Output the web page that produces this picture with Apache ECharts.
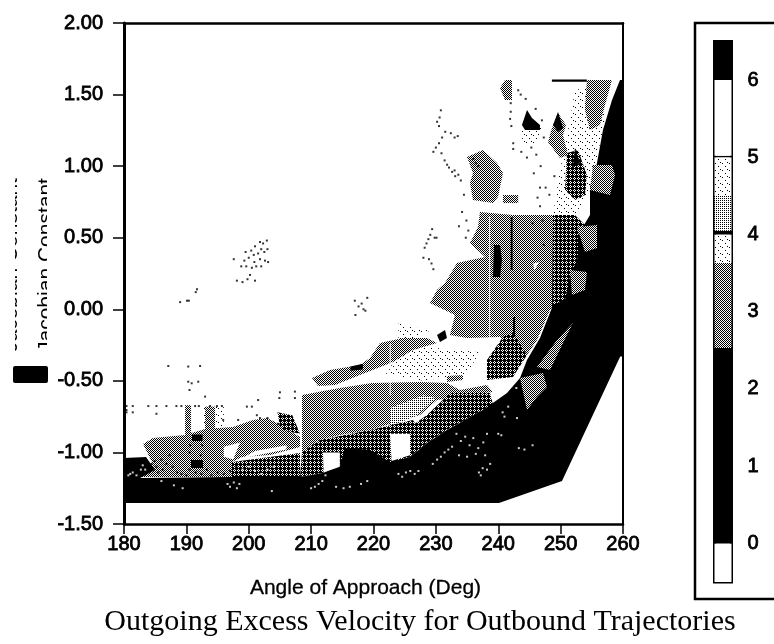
<!DOCTYPE html>
<html><head><meta charset="utf-8"><style>html,body{margin:0;padding:0;background:#fff}#c{width:774px;height:644px}</style>
<script src="https://cdn.jsdelivr.net/npm/echarts@6/dist/echarts.min.js"></script></head>
<body><div id="c"></div>
<script>
const angleTicksMin = 180, angleTicksMax = 260;
const constantMin = -1.5, constantMax = 2;
const colorTicks = [0,1,2,3,4,5,6];

const sparseRegions = [
 [[252.3,1.532],[256.31,1.567],[257.11,1.323],[254.71,.833],[252.3,.659],[248.78,.659],[249.9,.973],[251.5,1.323]],
 [[224,-.1],[229,-.15],[226,-.22],[224,-.22]],
 [[225,-.25],[237,-.3],[235,-.45],[228,-.5],[222,-.45]],
 [[243.5,1.28],[247,1.28],[246,1.15],[244,1.15]],
 [[192.7,-.67],[196,-.67],[196,-.86],[192.7,-.86]]
];
const grayRegions = [
 [[183.05,-.941],[184.65,-.899],[189.78,-.878],[192.99,-.836],[197.47,-.822],[200.68,-.773],[202.93,-.759],[204.53,-.794],[208.22,-.892],[208.22,-.962],[203.41,-1.018],[198.92,-1.032],[197.31,-1.067],[197.31,-1.172],[182.57,-1.172],[184.49,-1.067]],
 [[189.8,-.67],[190.75,-.67],[190.75,-.88],[189.8,-.88]],
 [[193,-.68],[194.6,-.68],[194.6,-.85],[193,-.85]],
 [[208.54,-.599],[214.63,-.55],[219.76,-.515],[227.45,-.508],[231.78,-.515],[233.87,-.564],[238.19,-.529],[239.16,-.578],[235.47,-.599],[230.18,-.634],[227.45,-.739],[219.44,-.843],[214.63,-.878],[211.42,-.913],[208.54,-.997]],
 [[210.14,-.48],[213.03,-.424],[217.83,-.389],[219.44,-.34],[221.04,-.236],[224.73,-.201],[228.58,-.201],[230.18,-.236],[226.33,-.284],[223.13,-.368],[217.83,-.459],[213.83,-.529],[211.1,-.536]],
 [[231.78,-.466],[234.35,-.459],[234.35,-.494],[231.78,-.508]],
 [[237.07,.68],[242.36,.659],[248.78,.659],[249.26,.344],[249.1,.044],[248.3,-.005],[246.21,-.215],[244.61,-.319],[242.36,-.333],[240.28,-.194],[234.99,-.201],[232.26,-.18],[233.06,-.04],[229.06,.044],[230.18,.135],[231.46,.184],[233.39,.323],[237.87,.365],[235.47,.463],[236.75,.575]],
 [[234.99,1.064],[237.55,1.113],[239.8,1.022],[240.76,.952],[239.96,.784],[239.16,.742],[235.95,.763],[235.47,.882],[235.95,.952]],
 [[241.08,1.602],[242.2,1.602],[242.2,1.462],[241.08,1.462],[240.28,1.546]],
 [[249.58,1.371],[250.86,1.287],[250.38,1.217],[251.18,1.078],[249.9,1.057],[247.97,1.169],[248.62,1.266]],
 [[240.76,.798],[243.2,.798],[243.2,.742],[240.76,.742]],
 [[254.22,1.602],[258.24,1.602],[257.11,1.427],[256.31,1.287],[254.71,1.252],[253.9,1.392]]
];
const lightRegions = [
 [[222.65,-.69],[228,-.6],[230,-.62],[227,-.74],[222.65,-.82]],
 [[234.4,-.62],[237.5,-.62],[237.5,-.74],[234.4,-.8]]
];
const gridRegions = [
 [[248.78,.659],[252.3,.659],[254.71,.554],[253.9,.414],[252.3,.205],[251.02,-.075],[248.62,-.019]],
 [[251.02,1.092],[252.78,1.113],[254.22,.938],[253.9,.798],[252.3,.763],[250.7,.833]],
 [[238.19,-.354],[240.76,-.194],[242.36,-.166],[244.61,-.319],[242.36,-.473],[238.19,-.494]],
 [[228.58,-.739],[232.26,-.585],[238.68,-.585],[239.16,-.669],[237.55,-.704],[231.78,-.843],[228.58,-.934],[226.33,-.808]],
 [[208.54,-.997],[211.42,-.913],[219.44,-.843],[226.33,-.773],[228.58,-.934],[225.85,-1.032],[222.65,-1.074],[219.44,-1.004],[215.43,-1.067],[211.9,-1.144],[208.22,-1.172]],
 [[197.31,-1.067],[208.22,-1.004],[208.22,-1.172],[197.31,-1.172]],
 [[204.6,-.72],[207,-.74],[208.2,-.87],[206,-.85],[205,-.82]]
];
const blackRegions = [
 [[258.24,1.462],[259.52,1.602],[260,1.602],[260,-.33],[259.55,-.33],[250.22,-1.2],[240.12,-1.353],[180,-1.353],[180,-1.039],[183.53,-1.032],[184.97,-1.123],[182.57,-1.179],[196.99,-1.172],[208.22,-1.172],[211.9,-1.144],[214.63,-1.088],[215.43,-.969],[219.44,-.983],[222.65,-1.067],[225.85,-1.032],[228.58,-.934],[231.78,-.843],[237.55,-.704],[241.4,-.585],[243.49,-.48],[244.61,-.354],[246.69,-.201],[248.78,.03],[250.7,.065],[251.5,.226],[252.78,.365],[252.78,.519],[254.71,.659],[254.71,.854],[255.83,1.022],[256.79,1.252]]
];
const grayOverBlack = [
 [[255.19,1.008],[258.24,1.008],[258.72,.938],[257.92,.798],[254.71,.833]],
 [[252.62,.575],[255.83,.589],[255.83,.428],[253.9,.4]],
 [[251.5,.274],[254.22,.26],[253.9,.135],[251.82,.1]],
 [[243.49,-.48],[247.17,-.445],[247.81,-.543],[246.21,-.613],[244.61,-.704]],
 [[246.21,-.403],[249.42,-.215],[251.98,-.096],[250.38,-.236],[248.3,-.424]]
];
const whiteRegions = [
 [[196,-.96],[198.6,-.93],[197.5,-1.05],[196,-1.03]],
 [[198.9,-1.04],[206,-.98],[206.1,-.95],[201,-.99]],
 [[211.9,-1.0],[214.6,-1.0],[214.6,-1.1],[212,-1.14]],
 [[222.65,-.87],[225.85,-.87],[225.85,-1.02],[222.9,-1.06]],
 [[240.28,-.515],[241.56,-.529],[241.56,-.578],[239.8,-.585]],
 [[245.6,.32],[246.5,.33],[245.8,.27]],
 [[238.55,.65],[238.7,.65],[238.7,-.2],[238.55,-.2]],
 [[222.6,-.24],[222.75,-.24],[222.75,-.6],[222.6,-.6]]
];
const darkBlobs = [
 [[243.8,1.287],[244.61,1.392],[245.41,1.336],[246.69,1.287],[246.69,1.252],[244.29,1.252]],
 [[248.78,1.287],[249.58,1.378],[250.38,1.266],[249.58,1.238]],
 [[252.3,1.127],[253.1,1.022],[251.98,.994]],
 [[239.32,.449],[240.28,.449],[240.6,.344],[240.28,.226],[239.16,.226]],
 [[242,.645],[242.3,.645],[242.3,.274],[242,.274]],
 [[242.36,-.054],[242.7,-.054],[242.7,-.194],[242.36,-.194]],
 [[190.74,-1.053],[192.66,-1.053],[192.66,-1.109],[190.74,-1.109]],
 [[190.9,-.875],[192.6,-.875],[192.6,-.92],[190.9,-.92]],
 [[230.18,-.18],[231.46,-.145],[231.78,-.201],[230.66,-.229]],
 [[216.3,-.4],[218.3,-.38],[218.3,-.42],[216.3,-.43]],
 [[248.6,1.605],[254.2,1.605],[254.2,1.59],[248.6,1.59]]
];
const blackSpecks = [
 [201.8,.47],[202.3,.46],[202.9,.48],[201,.44],[202,.42],[200.4,.41],[199.5,.4],[200.8,.38],[201.5,.39],[202.5,.4],[203,.42],[199.3,.34],[200,.36],[200.9,.33],[201.8,.35],[202.6,.34],[203.1,.33],[198.8,.3],[199.6,.3],[200.5,.29],[201.2,.3],[202,.3],[200.2,.24],[199.8,.21],[197.6,.35],[198.1,.2],[199,.19],[201,.2],
 [189,.05],[190.1,.06],[190.4,.06],[191.7,.14],[191.5,.12],
 [217,.06],[217.6,.02],[218.1,.04],[218.7,-.01],[219,.08],[217.1,-.04],[218.4,0],
 [229.4,.56],[229.1,.52],[228.8,.49],[228.5,.46],[228.2,.43],[229.8,.5],[230.1,.5],[228,.36],[228.9,.35],[229.3,.32],[229.6,.28],
 [230.8,1.39],[230.6,1.34],[230.2,1.31],[230.5,1.28],[231.5,1.24],[232.4,1.23],[233,1.2],[230,1.13],[230.5,1.16],[231,1.2],[229.6,1.1],[230.9,1.09],[231.4,1.04],[232.1,.99],[233,.97],[233.6,.94],[234,.9],[232.6,.96],[231.8,1.01],[233.1,.93],[233.5,1.21],[236.4,1.02],[236.8,1.0],[236,1.05],[234.5,.8],[234.2,.68],[234.9,.62],[233.7,.58],[235.2,.55],[234.8,.5],
 [242,1.44],[242,1.38],[241.9,1.33],[242.1,1.28],[242.4,1.16],[242.4,1.12],
 [243.2,1.53],[243.6,1.5],[244.4,1.47],[246,1.4],[247,1.32],[247.3,1.2],[245.3,1.13],[243.7,1.1],[244.6,1.06],[246.1,1.08],[246.8,1],[245.7,.95],[246.7,.85],[246.3,.78],[246.7,.72],[247.6,.85],[248.2,.8],[249,.93],[247.1,.62],[245.5,.6],[247.3,.45],
 [187.1,-.396],[190.3,-.4],[192.2,-.396],[190.3,-.506],[190.85,-.517],[191.9,-.506],[190.5,-.564],[193,-.61],[180.4,-.676],[181.4,-.676],[183.9,-.676],[185.2,-.676],[186.8,-.676],[188.4,-.676],[189.2,-.676],[191.4,-.676],[192,-.676],[193.8,-.676],[194.9,-.676],[195.7,-.676],[185.2,-.73],[195.9,-.773],[198.3,-.773],[199.7,-.68],[200.5,-.68],[201.5,-.634],[205,-.58],[204.9,-.62],[207.4,-.575],[207.4,-.62],[201.3,-.74],[201.8,-.76],[203,-.76],[180.4,-.704],[180.4,-.72],[181.4,-.72],
 [184.4,-1.08],[185.2,-1.1],[184.9,-1.06],[186,-1.05],[186.8,-1.08],[186.2,-1.12],[185.5,-1.14],[187.3,-1.02],[187.8,-1.1],[188.5,-1.14],[189.2,-1.15],[190,-1.16],[190.5,-1.12],[191.5,-1.14],[192.4,-1.15],[193.3,-1.12],[194,-1.16],[195,-1.14],[196,-1.15],[197,-1.13],[190.5,-1],[192.3,-1.02],[190.6,-.95],[192.5,-.95],[191.5,-.9],[205.3,-.75],[204.7,-.8],[206.4,-.78],[207,-.82],[198,-1.1]
];
const whiteSpecks = [
 [196.6,-1.22],[197,-1.24],[197.6,-1.21],[198.1,-1.25],[198.5,-1.22],[188,-1.23],[189.4,-1.25],[186,-1.2],[181,-1.15],[181.4,-1.14],[182,-1.16],[180.7,-1.16],[183,-1.09],[183.4,-1.12],[182.7,-1.12],[203.7,-1.27],
 [210,-1.25],[210.6,-1.24],[211.2,-1.22],[211.8,-1.2],[212.3,-1.16],[214,-1.24],[215.2,-1.25],[216.2,-1.24],[218,-1.22],[219,-1.2],
 [224,-1.15],[224.6,-1.17],[225.2,-1.14],[225.9,-1.13],[226.6,-1.15],[227.2,-1.13],[229.5,-1.08],[230.2,-1.05],[230.8,-1.03],[231.4,-1],[232,-.98],[232.6,-.96],
 [233.3,-.87],[234,-.92],[234.7,-.89],[235.4,-.95],[236,-.9],[236.8,-.97],[237.6,-.93],[238.2,-.87],[233.7,-1.02],[235,-1.03],[236.4,-1.01],[237.9,-1.02],[236.9,-1.14],[237.5,-1.11],[238.2,-1.12],[238.7,-1.08],[237.2,-1.16],[240,-.87],[240.5,-.88],[243.3,-.97],[244.2,-.98],[245.5,-.95],[241,-.75],[243,-.76],[241.6,-.68],[242.9,-.55],[240.7,-.72],
 [199,-1.12],[200,-1.1],[201,-1.13],[202,-1.15],[203,-1.12],[204,-1.1]
];
const colorBarFrom = [-.5,0,2.53,3.63,4,4.05,4.5,5,5.02,6];
const colorBarTo   = [0,2.53,3.63,4,4.05,4.5,5,5.02,6,6.5];
const colorBarFill = ['white','black','gray','sparse','black','gray2','sparse','black','white','black'];

function makePattern(size, painter){
  const cv=document.createElement('canvas');cv.width=cv.height=size;
  const g=cv.getContext('2d');g.fillStyle='#fff';g.fillRect(0,0,size,size);g.fillStyle='#000';
  painter(g);return {image:cv,repeat:'repeat'};
}
const checker=makePattern(2,g=>{g.fillRect(0,0,1,1);g.fillRect(1,1,1,1);});
const gridPat=makePattern(4,g=>{g.fillRect(0,0,4,1);g.fillRect(0,0,1,4);g.fillRect(2,2,1,1);g.fillRect(1,1,1,1);g.fillRect(3,3,1,1);g.fillRect(3,1,1,1);g.fillRect(1,3,1,1);});
const lightPat=makePattern(4,g=>{g.fillRect(0,0,1,1);g.fillRect(2,0,1,1);g.fillRect(0,2,1,1);g.fillRect(2,2,1,1);});
const sparsePat=makePattern(7,g=>{g.fillRect(1,2,1,1);g.fillRect(4,5,1,1);g.fillRect(6,1,1,1);});
const fills={white:'#fff',black:'#000',gray:checker,gray2:lightPat,sparse:sparsePat};

function polySeries(polys, fill, xi, yi){
  return {type:'custom',coordinateSystem:'cartesian2d',xAxisIndex:xi||0,yAxisIndex:yi||0,silent:true,clip:true,animation:false,
    data:polys.map((p,i)=>[i]),encode:{x:-1,y:-1},
    renderItem:(params,api)=>({type:'polygon',shape:{points:polys[api.value(0)].map(p=>api.coord(p))},style:{fill:fill,stroke:null}})};
}
function specks(pts,color){
  return {type:'scatter',data:pts,symbol:'rect',symbolSize:2,silent:true,animation:false,itemStyle:{color:color},xAxisIndex:0,yAxisIndex:0};
}
const barSeries = colorBarFrom.map((f,i)=>polySeries([[[0,f],[1,f],[1,colorBarTo[i]],[0,colorBarTo[i]]]],fills[colorBarFill[i]],2,2));

const tickFont={color:'#000',fontFamily:'Liberation Sans',fontSize:20,textBorderColor:'#000',textBorderWidth:0.8};
const chart=echarts.init(document.getElementById('c'),null,{renderer:'canvas'});
chart.setOption({
  animation:false,backgroundColor:'#fff',
  title:{text:'Outgoing Excess Velocity for Outbound Trajectories',left:415,top:602,textAlign:'center',
    textStyle:{fontFamily:'Liberation Serif',fontWeight:'normal',fontSize:30,color:'#000'}},
  grid:[{left:124,top:23,width:499,height:501},{left:714.5,top:41.5,width:17,height:540.5,show:true,borderColor:'#000',borderWidth:3,backgroundColor:'#fff'}],
  xAxis:[
   {type:'value',gridIndex:0,position:'bottom',min:angleTicksMin,max:angleTicksMax,interval:10,splitLine:{show:false},
    axisLine:{onZero:false,lineStyle:{color:'#000',width:2.5}},axisTick:{length:10,lineStyle:{color:'#000',width:1.5}},
    axisLabel:Object.assign({margin:10},tickFont),
    name:'Angle of Approach (Deg)',nameLocation:'middle',nameGap:54,
    nameTextStyle:{color:'#000',fontFamily:'Liberation Sans',fontSize:21,padding:[0,16,0,0],textBorderColor:'#000',textBorderWidth:0.3}},
   {type:'value',gridIndex:0,position:'top',min:angleTicksMin,max:angleTicksMax,splitLine:{show:false},axisTick:{show:false},axisLabel:{show:false},axisLine:{onZero:false,lineStyle:{color:'#000',width:2.5}}},
   {type:'value',gridIndex:1,min:0,max:1,show:false}
  ],
  yAxis:[
   {type:'value',gridIndex:0,position:'left',min:constantMin,max:constantMax,interval:.5,splitLine:{show:false},
    axisLine:{onZero:false,lineStyle:{color:'#000',width:3}},axisTick:{length:11,lineStyle:{color:'#000',width:1.5}},
    axisLabel:Object.assign({margin:21,formatter:v=>v.toFixed(2)},tickFont)},
   {type:'value',gridIndex:0,position:'right',min:constantMin,max:constantMax,splitLine:{show:false},axisTick:{show:false},axisLabel:{show:false},axisLine:{onZero:false,lineStyle:{color:'#000',width:2}}},
   {type:'value',gridIndex:1,position:'right',min:-.5,max:6.5,splitLine:{show:false},axisLine:{show:false},axisTick:{show:false},
    axisLabel:Object.assign({margin:16,customValues:colorTicks},tickFont)}
  ],
  graphic:{elements:[
   {type:'rect',shape:{x:695,y:23,width:110,height:576},style:{fill:'none',stroke:'#000',lineWidth:2.5},silent:true},
   {type:'text',x:22,y:352,rotation:Math.PI/2,style:{text:'Jacobian Constant',font:'21px "Liberation Sans"',fill:'#000',align:'left',verticalAlign:'bottom'},silent:true},
   {type:'text',x:36,y:352,rotation:Math.PI/2,style:{text:'Jacobian Constant',font:'21px "Liberation Sans"',fill:'#000',align:'left',verticalAlign:'top'},silent:true},
   {type:'rect',shape:{x:0,y:150,width:15,height:215},style:{fill:'#fff'},silent:true},
   {type:'rect',shape:{x:47,y:150,width:9,height:215},style:{fill:'#fff'},silent:true},
   {type:'rect',shape:{x:13,y:366,width:35,height:17,r:2},style:{fill:'#000'},silent:true}
  ]},
  series:[
    polySeries(sparseRegions,sparsePat),
    polySeries(grayRegions,checker),
    polySeries(lightRegions,lightPat),
    polySeries(gridRegions,gridPat),
    polySeries(blackRegions,'#000'),
    polySeries(grayOverBlack,checker),
    polySeries(whiteRegions,'#fff'),
    polySeries(darkBlobs,'#000'),
    specks(blackSpecks,'#000'),
    specks(whiteSpecks,'#fff')
  ].concat(barSeries)
});
</script></body></html>
